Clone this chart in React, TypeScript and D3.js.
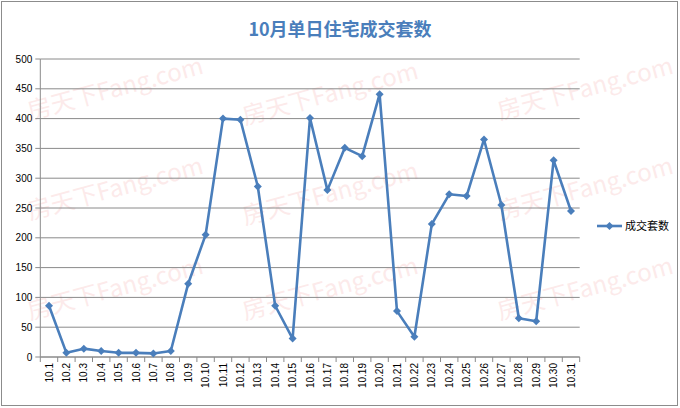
import React from "react";
import * as d3 from "d3";

const categories = ["10.1","10.2","10.3","10.4","10.5","10.6","10.7","10.8","10.9","10.10","10.11","10.12","10.13","10.14","10.15","10.16","10.17","10.18","10.19","10.20","10.21","10.22","10.23","10.24","10.25","10.26","10.27","10.28","10.29","10.30","10.31"];
const values = [86,7,14,10,7,7,6,10,123,205,400,398,286,86,31,401,280,351,337,441,77,34,223,273,270,365,255,65,60,330,245];
const yTicks = [0,50,100,150,200,250,300,350,400,450,500];
const seriesName = "成交套数";
const title = "10月单日住宅成交套数";
const watermark = "房天下Fang.com";

const W = 680, H = 408;
const L = 40.3, R = 579.7, T = 59, B = 357;
const lineColor = "#4a7ebb";

export default function App() {
  const x = d3.scaleBand<string>().domain(categories).range([L, R]);
  const y = d3.scaleLinear().domain([0, 500]).range([B, T]);
  const cx = (c: string) => (x(c) as number) + x.bandwidth() / 2;
  const line = d3.line<number>().x((_, i) => cx(categories[i])).y(v => y(v));
  const diamond = (px: number, py: number, s = 4) => `M${px},${py - s}L${px + s},${py}L${px},${py + s}L${px - s},${py}Z`;
  const wm = [
    { x: 30, y: 120 }, { x: 30, y: 220 }, { x: 30, y: 320 },
    { x: 245, y: 125 }, { x: 245, y: 225 }, { x: 245, y: 320 },
    { x: 500, y: 120 }, { x: 500, y: 220 }, { x: 500, y: 320 },
  ];
  return (
    <svg width={W} height={H} style={{ position: "absolute", left: 0, top: 0, fontFamily: "Liberation Sans, Arial, sans-serif" }}>
      <rect x={0} y={0} width={W} height={H} fill="#fff" />
      <rect x={1.5} y={1.5} width={W - 4} height={H - 4} fill="none" stroke="#8c8c8c" strokeWidth={1} />
      {wm.map((p, i) => (
        <text key={"w" + i} transform={`translate(${p.x},${p.y}) rotate(-15)`} fontSize={24} fill="#f08080" opacity={0.16} fontFamily="Noto Sans CJK SC">{watermark}</text>
      ))}
      <text x={340} y={36} textAnchor="middle" fontSize={18} fontWeight="bold" fill={lineColor} fontFamily="Noto Sans CJK SC">{title}</text>
      {yTicks.map(t => (
        <g key={t}>
          <line x1={L} x2={R} y1={y(t)} y2={y(t)} stroke="#8a8a8a" strokeWidth={1} />
          <line x1={L - 5} x2={L} y1={y(t)} y2={y(t)} stroke="#8a8a8a" />
          <text x={L - 8} y={y(t) + 3.5} textAnchor="end" fontSize={10} fill="#000">{t}</text>
        </g>
      ))}
      <line x1={L} x2={L} y1={T} y2={B} stroke="#8a8a8a" />
      <line x1={L} x2={R} y1={B} y2={B} stroke="#8a8a8a" />
      {categories.map((c, i) => (
        <line key={"t" + i} x1={x(c) as number} x2={x(c) as number} y1={B} y2={B + 5} stroke="#8a8a8a" />
      ))}
      <line x1={R} x2={R} y1={B} y2={B + 5} stroke="#8a8a8a" />
      {categories.map(c => (
        <text key={"l" + c} transform={`translate(${cx(c) + 3.5},${B + 6}) rotate(-90)`} textAnchor="end" fontSize={10} fill="#000">{c}</text>
      ))}
      <path d={line(values) as string} fill="none" stroke={lineColor} strokeWidth={2.6} strokeLinejoin="round" />
      {values.map((v, i) => (
        <path key={"m" + i} d={diamond(cx(categories[i]), y(v))} fill={lineColor} />
      ))}
      <line x1={597} x2={622} y1={226} y2={226} stroke={lineColor} strokeWidth={2.6} />
      <path d={diamond(609.5, 226)} fill={lineColor} />
      <text x={625} y={230} fontSize={11} fill="#000" fontFamily="Noto Sans CJK SC">{seriesName}</text>
    </svg>
  );
}
